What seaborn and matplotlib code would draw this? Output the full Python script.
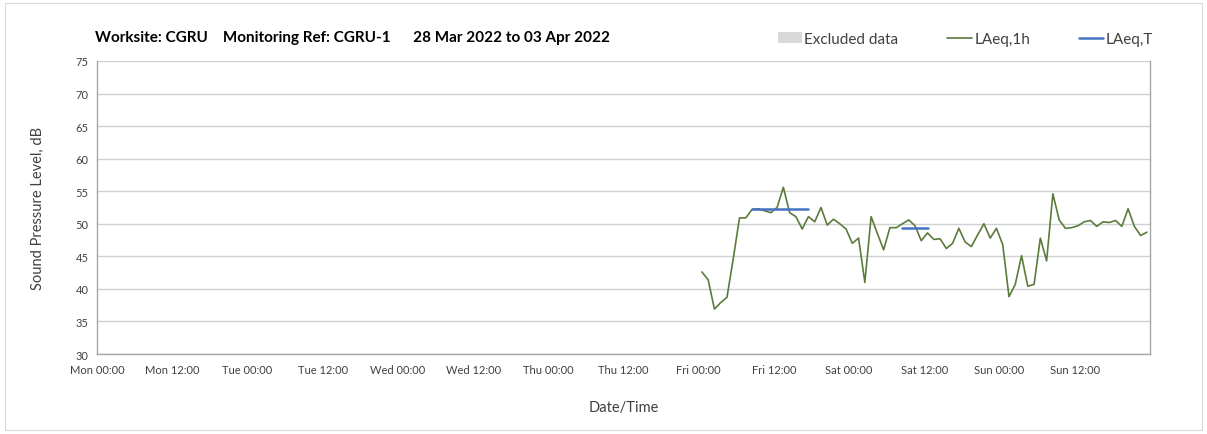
import numpy as np
import pandas as pd
import matplotlib
matplotlib.use("Agg")
import matplotlib.pyplot as plt
import matplotlib.dates as mdates
import matplotlib.patches as mpatches
from matplotlib.lines import Line2D
import seaborn as sns

# hourly LAeq,1h readings, Fri 00:30 -> Sun 23:30
start_time = "2022-04-01 00:30"
laeq_1h = [
    42.6, 41.4, 36.9, 37.9, 38.7, 44.6, 50.9, 50.9, 52.2, 52.3,
    52.0, 51.7, 52.5, 55.6, 51.7, 51.1, 49.2, 51.1, 50.3, 52.5,
    49.8, 50.7, 50.0, 49.2, 47.0, 47.8, 41.0, 51.1, 48.5, 46.0,
    49.4, 49.4, 50.0, 50.6, 49.7, 47.4, 48.6, 47.6, 47.7, 46.2,
    47.0, 49.3, 47.2, 46.5, 48.3, 50.0, 47.8, 49.3, 46.8, 38.8,
    40.7, 45.1, 40.4, 40.7, 47.8, 44.3, 54.6, 50.6, 49.3, 49.4,
    49.7, 50.3, 50.5, 49.6, 50.3, 50.2, 50.5, 49.6, 52.3, 49.6,
    48.2, 48.7,
]

# LAeq,T periods (first/last hourly point covered, value)
period_names = ["Fri day", "Sat day"]
period_start = ["2022-04-01 08:30", "2022-04-02 08:30"]
period_end = ["2022-04-01 17:30", "2022-04-02 12:30"]
period_value = [52.3, 49.4]

week_start = "2022-03-28 00:00"
week_end = "2022-04-04 00:00"
title_text = "Worksite: CGRU    Monitoring Ref: CGRU-1      28 Mar 2022 to 03 Apr 2022"

green = "#5b7b3d"
blue = "#4472c4"
grid_col = "#d0d0d0"
axis_col = "#a6a6a6"

sns.set_theme(style="white")
plt.rcParams["font.family"] = ["Lato", "DejaVu Sans"]

hourly = pd.DataFrame({
    "time": pd.date_range(start_time, periods=len(laeq_1h), freq="h"),
    "level": laeq_1h,
})

fig = plt.figure(figsize=(12.07, 4.35), dpi=100)
ax = fig.add_axes([0.0804, 0.1839, 0.8724, 0.6736])

sns.lineplot(data=hourly, x="time", y="level", color=green, linewidth=1.2, ax=ax)
for name, s, e, v in zip(period_names, period_start, period_end, period_value):
    seg = pd.DataFrame({"time": pd.to_datetime([s, e]), "level": [v, v]})
    sns.lineplot(data=seg, x="time", y="level", color=blue, linewidth=1.8, ax=ax)

ax.set_xlim(pd.Timestamp(week_start), pd.Timestamp(week_end))
ax.set_ylim(30, 75)
ax.set_yticks(np.arange(30, 76, 5))

# 12-hour ticks, gridlines only at midnight
ax.xaxis.set_major_locator(mdates.HourLocator(byhour=[0, 12]))
ax.xaxis.set_major_formatter(mdates.DateFormatter("%a %H:%M"))
ax.xaxis.set_minor_locator(mdates.HourLocator(byhour=[0]))

ax.grid(False)
ax.yaxis.grid(True, color=grid_col, linewidth=1.0)
ax.xaxis.grid(True, which="minor", color=grid_col, linewidth=1.0)
ax.set_axisbelow(True)

for side in ["left", "bottom", "right"]:
    ax.spines[side].set_color(axis_col)
    ax.spines[side].set_linewidth(1.0)
ax.spines["top"].set_visible(False)

ax.tick_params(axis="x", which="major", direction="out", length=4, color=axis_col,
               labelsize=8, colors="#404040", pad=3)
ax.tick_params(axis="x", which="minor", length=0)
ax.tick_params(axis="y", direction="out", length=4, color=axis_col,
               labelsize=8, colors="#404040", pad=2)
# hide the label on the closing Mon 00:00 tick
xt = ax.get_xticklabels()
if len(xt) > 14:
    xt[-1].set_visible(False)

ax.set_xlabel("Date/Time", fontsize=10.5, color="#404040", labelpad=18)
ax.set_ylabel("Sound Pressure Level, dB", fontsize=10.5, color="#404040", labelpad=22)

fig.text(95 / 1207, 1 - 38 / 435, title_text, fontsize=11, fontweight="bold",
         color="#000000", va="center", ha="left")

handles = [
    mpatches.Patch(facecolor="#d9d9d9", edgecolor="none", label="Excluded data"),
    Line2D([0], [0], color=green, linewidth=1.2, label="LAeq,1h"),
    Line2D([0], [0], color=blue, linewidth=1.8, label="LAeq,T"),
]
leg = fig.legend(handles=handles, loc="center right", bbox_to_anchor=(1153 / 1207, 1 - 40 / 435),
                 ncol=3, frameon=False, fontsize=11, handlelength=1.6, handletextpad=0.15,
                 columnspacing=3.2, borderpad=0, borderaxespad=0)
for t in leg.get_texts():
    t.set_color("#404040")

fig.add_artist(mpatches.Rectangle((0.004, 0.01), 0.992, 0.98, transform=fig.transFigure,
                                  fill=False, edgecolor="#d9d9d9", linewidth=0.8))

fig.savefig("out.png", dpi=100)
